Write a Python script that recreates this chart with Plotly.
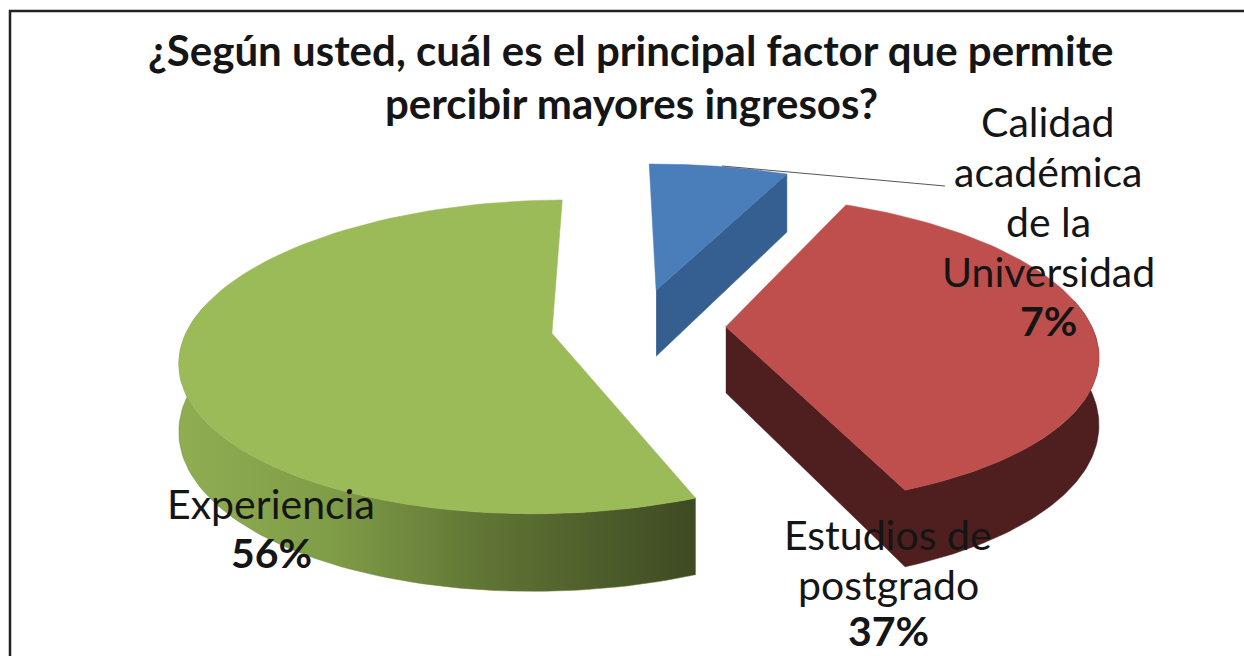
"""Exploded 3D-look pie chart, projected by hand onto a pixel-sized cartesian plot."""

import numpy as np
import plotly.graph_objects as go

categories = ["Calidad académica de la Universidad", "Estudios de postgrado", "Experiencia"]
values = [7, 37, 56]
top_colors = ["#4A7EBB", "#BE4F4D", "#9BBB59"]
wall_colors = ["#355F91", "#4E1F1E", "#6B8239"]
label_lines = [
    ["Calidad", "académica", "de la", "Universidad"],
    ["Estudios de", "postgrado"],
    ["Experiencia"],
]
title_lines = [
    "¿Según usted, cuál es el principal factor que permite",
    "percibir mayores ingresos?",
]

WIDTH, HEIGHT = 1244, 656
FONT = "Lato"
CX, CY = 638, 326  # pie centre
RX, RY = 366, 152  # radii
PERSPECTIVE = 0.15
OFFSET_PERSPECTIVE = 1.27  # how much the explosion offset itself fans out
DEPTH = 66
EXPLODE = 0.24
START_ANGLE = -0.7


def polygon(x, y, color, **kwargs):
    return go.Scatter(
        x=x,
        y=y,
        mode="lines",
        fill="toself",
        fillcolor=color,
        line=dict(color=color, width=0.5),
        hoverinfo="skip",
        showlegend=False,
        **kwargs,
    )


def slice_traces(start, end, top_color, wall_color, gradient=None):
    """Traces of one slice; angles are clockwise degrees from twelve o'clock."""
    mid = np.radians((start + end) / 2)
    off_x = EXPLODE * RX * np.sin(mid)
    off_y = -EXPLODE * RY * np.cos(mid)
    apex_x, apex_y = CX + off_x, CY + off_y

    def rim(a0, a1, drop=0.0):
        angles = np.radians(np.linspace(a0, a1, 90))
        u, v = np.sin(angles), -np.cos(angles)
        scale = 1 / (1 - PERSPECTIVE * v)
        x = apex_x + RX * u * scale + OFFSET_PERSPECTIVE * off_x * (scale - 1)
        y = apex_y + (RY * v + drop) * scale + OFFSET_PERSPECTIVE * off_y * (scale - 1)
        return list(x), list(y)

    traces = []

    # Front wall, plus the cut face on the clockwise end when it faces the viewer
    low, high = max(start, 80), min(end, 280)
    end_cut = np.sin(np.radians(end)) > 0.05
    if low < high:
        top_x, top_y = rim(high, low)
        low_x, low_y = rim(low, high, DEPTH)
    else:
        top_x, top_y = rim(end, end)
        low_x, low_y = rim(end, end, DEPTH)
    x, y = top_x + low_x, top_y + low_y
    if end_cut:
        x = [apex_x] + x + [apex_x]
        y = [apex_y] + y + [apex_y + DEPTH]
    extra = {"fillgradient": gradient} if gradient else {}
    traces.append(polygon(x, y, wall_color, **extra))

    arc_x, arc_y = rim(start, end)
    traces.append(polygon([apex_x] + arc_x + [apex_x], [apex_y] + arc_y + [apex_y], top_color))
    return traces


green_gradient = dict(
    type="horizontal",
    colorscale=[[0, "#8FAE52"], [0.3, "#7F9C47"], [0.6, "#5F7434"], [1, "#3E4A23"]],
)

fig = go.Figure()

edges = START_ANGLE + np.concatenate([[0], np.cumsum(values)]) / np.sum(values) * 360
for i in range(len(values)):
    gradient = green_gradient if categories[i] == "Experiencia" else None
    for trace in slice_traces(edges[i], edges[i + 1], top_colors[i], wall_colors[i], gradient):
        fig.add_trace(trace)


def add_text(x, y, text, size, bold=False):
    fig.add_annotation(
        x=x,
        y=y,
        text=f"<b>{text}</b>" if bold else text,
        showarrow=False,
        xanchor="center",
        yanchor="middle",
        font=dict(family=FONT, size=size, color="#151515"),
    )


for y, line in zip([50, 103], title_lines):
    add_text(631, y, line, 42, bold=True)

label_x = [1048, 888, 271]
label_y = [121, 534, 503]
percent_y = [320, 630, 552]
for i, lines in enumerate(label_lines):
    for j, line in enumerate(lines):
        add_text(label_x[i], label_y[i] + j * 50, line, 41)
    add_text(label_x[i], percent_y[i], f"{values[i]}%", 41, bold=True)

# Leader line of the blue slice and the frame clipped by the photo
fig.add_shape(type="line", x0=722, y0=166, x1=945, y1=186, line=dict(color="#555555", width=1))
fig.add_shape(
    type="path",
    path=f"M 10 {HEIGHT} L 10 11 L {WIDTH} 11",
    line=dict(color="#222222", width=2.5),
)

fig.update_layout(
    width=WIDTH,
    height=HEIGHT,
    autosize=False,
    margin=dict(l=0, r=0, t=0, b=0),
    paper_bgcolor="white",
    plot_bgcolor="white",
    showlegend=False,
    xaxis=dict(range=[0, WIDTH], visible=False, fixedrange=True),
    yaxis=dict(range=[HEIGHT, 0], visible=False, fixedrange=True),
)

fig.write_html(
    "out.html",
    config=dict(displayModeBar=False),
    post_script="document.body.style.margin='0';document.body.style.overflow='hidden';",
)
